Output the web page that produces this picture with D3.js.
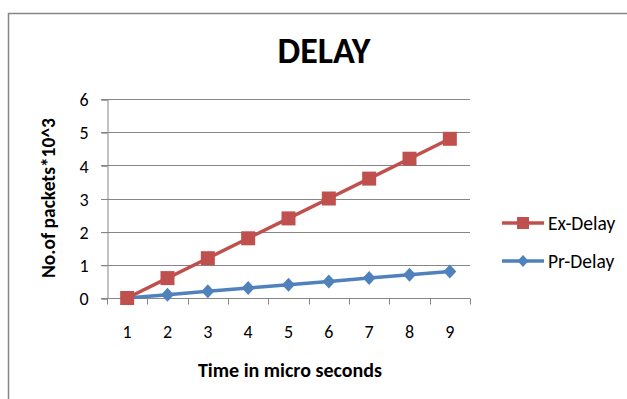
<!DOCTYPE html>
<html>
<head>
<meta charset="utf-8">
<script src="https://cdn.jsdelivr.net/npm/d3@7/dist/d3.min.js"></script>
<style>
  html, body { margin: 0; padding: 0; background: #fff; }
  svg { display: block; }
  text { font-family: Carlito, Calibri, Lato, "Open Sans", sans-serif; fill: #000; }
</style>
</head>
<body>
<svg id="chart" width="627" height="399"></svg>
<script>
// Time steps on the x axis
const categories = ["1", "2", "3", "4", "5", "6", "7", "8", "9"];
// Delay series, in packets x 10^3
const exDelay = [0, 0.6, 1.2, 1.8, 2.4, 3.0, 3.6, 4.2, 4.8];
const prDelay = [0, 0.1, 0.2, 0.3, 0.4, 0.5, 0.6, 0.7, 0.8];
const yTicks = [0, 1, 2, 3, 4, 5, 6];
const seriesNames = ["Ex-Delay", "Pr-Delay"];

const svg = d3.select("#chart");
const gridColor = "#868686";
const red = "#C0504D", blue = "#4F81BD";

// a nearly square diamond marker (symbolDiamond is too narrow)
const wideDiamond = {
  draw(context, size) {
    const h = Math.sqrt(size / 2);
    const w = h * 0.92;
    context.moveTo(0, -h);
    context.lineTo(w, 0);
    context.lineTo(0, h);
    context.lineTo(-w, 0);
    context.closePath();
  }
};

// chart frame
svg.append("rect")
  .attr("x", 8.5).attr("y", 13.5)
  .attr("width", 640).attr("height", 400)
  .attr("fill", "none").attr("stroke", gridColor).attr("stroke-width", 1.5);

const plot = { left: 107, right: 470, top: 99, bottom: 298 };

const x = d3.scaleBand().domain(categories).range([plot.left, plot.right]).padding(0);
const y = d3.scaleLinear().domain([0, 6]).range([plot.bottom, plot.top]);
const cx = c => x(c) + x.bandwidth() / 2;

// horizontal gridlines
svg.append("g").selectAll("line").data(yTicks).join("line")
  .attr("x1", plot.left - 6).attr("x2", plot.right)
  .attr("y1", d => Math.round(y(d)) + 0.5).attr("y2", d => Math.round(y(d)) + 0.5)
  .attr("stroke", gridColor).attr("stroke-width", 1);

// y axis
const yAxis = svg.append("g")
  .attr("transform", `translate(${plot.left + 0.5},0.5)`)
  .call(d3.axisLeft(y).tickValues(yTicks).tickSize(6).tickPadding(13).tickFormat(d3.format("d")));
yAxis.selectAll("path, line").attr("stroke", gridColor);
yAxis.selectAll("text").attr("font-size", 18).attr("font-family", null).attr("dy", "0.35em");

// x axis: ticks on the category boundaries, labels centred in each band
const xAxisG = svg.append("g").attr("transform", `translate(0,${Math.round(plot.bottom) + 0.5})`);
xAxisG.append("line").attr("x1", plot.left).attr("x2", plot.right).attr("stroke", gridColor);
const bounds = categories.map(c => x(c)).concat([plot.right]);
xAxisG.selectAll("line.tick").data(bounds).join("line").attr("class", "tick")
  .attr("x1", d => Math.round(d) + 0.5).attr("x2", d => Math.round(d) + 0.5)
  .attr("y1", 0).attr("y2", 6).attr("stroke", gridColor);
xAxisG.selectAll("text").data(categories).join("text")
  .attr("x", d => cx(d)).attr("y", 39).attr("text-anchor", "middle")
  .attr("font-size", 18).text(d => d);

// series lines and markers
const line = d3.line().x((d, i) => cx(categories[i])).y(d => y(d));

svg.append("path").datum(prDelay).attr("d", line)
  .attr("fill", "none").attr("stroke", blue).attr("stroke-width", 3.5).attr("stroke-linejoin", "round");
const diamond = d3.symbol().type(wideDiamond).size(98);
svg.append("g").selectAll("path").data(prDelay).join("path")
  .attr("transform", (d, i) => `translate(${cx(categories[i])},${y(d)})`)
  .attr("d", diamond).attr("fill", blue);

svg.append("path").datum(exDelay).attr("d", line)
  .attr("fill", "none").attr("stroke", red).attr("stroke-width", 3.5).attr("stroke-linejoin", "round");
svg.append("g").selectAll("rect").data(exDelay).join("rect")
  .attr("x", (d, i) => cx(categories[i]) - 7).attr("y", d => y(d) - 7)
  .attr("width", 14).attr("height", 14).attr("fill", red);

// title and axis titles
svg.append("text").attr("x", 324).attr("y", 63).attr("text-anchor", "middle")
  .attr("font-size", 36).attr("font-weight", "bold").text("DELAY");
svg.append("text").attr("transform", "translate(55,198) rotate(-90)").attr("text-anchor", "middle")
  .attr("font-size", 19.5).attr("font-weight", "bold").text("No.of packets*10^3");
svg.append("text").attr("x", 290).attr("y", 377).attr("text-anchor", "middle")
  .attr("font-size", 20).attr("font-weight", "bold").text("Time in micro seconds");

// legend
const legend = svg.append("g");
const legendRows = [
  { name: seriesNames[0], color: red, shape: "square", y: 223 },
  { name: seriesNames[1], color: blue, shape: "diamond", y: 261 }
];
legendRows.forEach(r => {
  legend.append("line").attr("x1", 502).attr("x2", 544).attr("y1", r.y).attr("y2", r.y)
    .attr("stroke", r.color).attr("stroke-width", 3.5);
  if (r.shape === "square") {
    legend.append("rect").attr("x", 523 - 6).attr("y", r.y - 6).attr("width", 12).attr("height", 12).attr("fill", r.color);
  } else {
    legend.append("path").attr("transform", `translate(523,${r.y})`)
      .attr("d", d3.symbol().type(wideDiamond).size(72)).attr("fill", r.color);
  }
  legend.append("text").attr("x", 548).attr("y", r.y).attr("dy", "0.35em")
    .attr("font-size", 19.5).text(r.name);
});
</script>
</body>
</html>
